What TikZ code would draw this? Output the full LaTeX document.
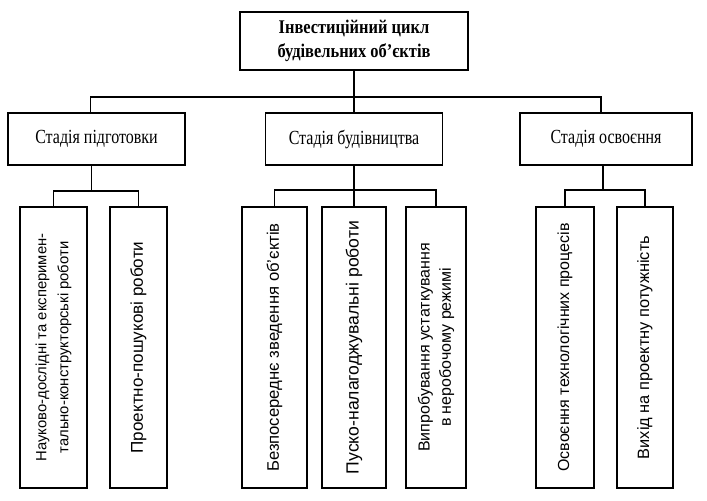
\documentclass[tikz,border=0pt]{standalone}
\usepackage{fontspec}
\setmainfont{Liberation Serif}
\newfontfamily\condserif[FakeStretch=0.8]{Liberation Serif}
\newfontfamily\condbold[FakeStretch=0.85]{Liberation Serif}
\setsansfont{Liberation Sans}
\usetikzlibrary{calc}
\begin{document}
\begin{tikzpicture}[x=0.75pt,y=-0.75pt,
  every node/.style={inner sep=0pt, outer sep=0pt},
  box/.style={draw, line width=1.1pt, align=center},
  titlebox/.style={box, minimum width=171pt, minimum height=43.5pt,
     font=\condbold\fontsize{14.5}{18}\selectfont\bfseries},
  stagebox/.style={box, minimum height=39pt,
     font=\condserif\fontsize{15}{18}\selectfont},
  leafbox/.style={box, rotate=90, minimum width=210.75pt},
  conn/.style={line width=1.1pt}]
\useasboundingbox (0,0) rectangle (707,500);
% top
\node[titlebox] (top) at (354,41) {Інвестиційний цикл\\будівельних об’єктів};
% stages
\node[stagebox, minimum width=132.75pt] (s1) at (96.5,139) {Стадія підготовки};
\node[stagebox, minimum width=132.75pt] (s2) at (354,139) {Стадія будівництва};
\node[stagebox, minimum width=129pt] (s3) at (606,139) {Стадія освоєння};
% leaves
\node[leafbox, minimum height=50.25pt, font=\sffamily\fontsize{11.1}{16.5}\selectfont] (l1) at (53.5,347.5) {Науково-дослідні та експеримен-\\тально-конструкторські роботи};
\node[leafbox, minimum height=42.75pt, font=\sffamily\fontsize{12.8}{16}\selectfont] (l2) at (138.5,347.5) {Проектно-пошукові роботи};
\node[leafbox, minimum height=48.75pt, font=\sffamily\fontsize{12.5}{16}\selectfont] (l3) at (274.5,347.5) {Безпосереднє зведення об’єктів};
\node[leafbox, minimum height=48pt, font=\sffamily\fontsize{13.2}{16}\selectfont] (l4) at (354,347.5) {Пуско-налагоджувальні роботи};
\node[leafbox, minimum height=45pt, font=\sffamily\fontsize{12}{16}\selectfont] (l5) at (436,347.5) {Випробування устаткування\\в неробочому режимі};
\node[leafbox, minimum height=43.5pt, font=\sffamily\fontsize{12}{16}\selectfont] (l6) at (565,347.5) {Освоєння технологічних процесів};
\node[leafbox, minimum height=42pt, font=\sffamily\fontsize{12.3}{16}\selectfont] (l7) at (645,347.5) {Вихід на проектну потужність};
% connectors top -> stages
\coordinate (b0) at (354,97);
\coordinate (s1up) at ($(s1.north)+(-6,0)$);
\coordinate (s3up) at ($(s3.north)+(-5,0)$);
\draw[conn] (top.south) -- (s2.north);
\draw[conn] (s1up) |- (b0) -| (s3up);
% stage 1
\coordinate (s1dn) at ($(s1.south)+(-5,0)$);
\coordinate (b1) at ($(s1dn)+(0,26)$);
\draw[conn] (s1dn) -- (b1);
\draw[conn] (l1.east) |- (b1) -| (l2.east);
% stage 2
\coordinate (b2) at (354,190);
\draw[conn] (s2.south) -- (l4.east);
\draw[conn] (l3.east) |- (b2) -| (l5.east);
% stage 3
\coordinate (s3dn) at ($(s3.south)+(-3,0)$);
\coordinate (b3) at ($(s3dn)+(0,25)$);
\draw[conn] (s3dn) -- (b3);
\draw[conn] (l6.east) |- (b3) -| (l7.east);
\end{tikzpicture}
\end{document}
